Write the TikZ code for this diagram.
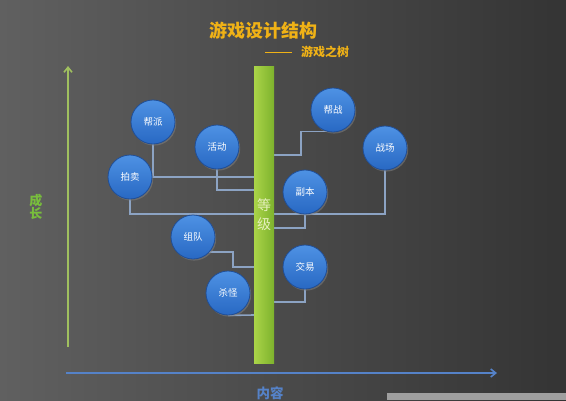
\documentclass[tikz,border=0pt]{standalone}
\usepackage{fontspec}
\newfontfamily\cjk{Noto Sans CJK SC}
\usetikzlibrary{arrows.meta,shadows}
\pgfdeclarelayer{bglayer}
\pgfsetlayers{bglayer,main}
\definecolor{bgL}{RGB}{96,96,96}
\definecolor{bgR}{RGB}{52,52,52}
\definecolor{titleC}{RGB}{240,178,22}
\definecolor{connC}{RGB}{140,163,195}
\definecolor{ballT}{RGB}{78,146,228}
\definecolor{ballB}{RGB}{40,104,195}
\definecolor{ballD}{RGB}{32,78,150}
\definecolor{barL}{RGB}{170,212,72}
\definecolor{barR}{RGB}{125,178,45}
\definecolor{growC}{RGB}{160,192,95}
\definecolor{growT}{RGB}{120,190,60}
\definecolor{axisB}{RGB}{85,130,200}
\definecolor{levelT}{RGB}{230,240,190}
\tikzset{
  ball/.style={circle, minimum size=44pt, inner sep=0pt, top color=ballT, bottom color=ballB,
    draw=ballD, line width=0.8pt, text=white, font=\cjk\fontsize{9.5}{10}\selectfont,
    drop shadow={opacity=0.55, shadow xshift=1.2pt, shadow yshift=-1.6pt}},
  conn/.style={draw=connC, line width=1.6pt},
  barbox/.style={minimum width=20pt, minimum height=297pt, inner sep=0pt, left color=barL, right color=barR}
}
\begin{document}
\begin{tikzpicture}[x=1pt,y=-1pt]
\useasboundingbox (0,0) rectangle (566,400);
\begin{pgfonlayer}{bglayer}
\fill[left color=bgL, right color=bgR] (0,0) rectangle (566,400);
\fill[gray!75] (387,393) rectangle (566,400);
\end{pgfonlayer}
% title
\node[text=titleC, font=\cjk\bfseries\fontsize{18}{20}\selectfont] (title) at (263,31) {游戏设计结构};
\node[text=titleC, font=\cjk\bfseries\fontsize{12}{14}\selectfont] (sub) at (325,52) {游戏之树};
\coordinate (d1) at (265,52);
\coordinate (d2) at (292,52);
\draw[titleC, line width=0.8pt] (d1) -- (d2);
% axes
\coordinate (g0) at (68,347);
\coordinate (g1) at (68,66);
\draw[growC, line width=1.6pt, -{Straight Barb[length=5pt,width=8pt]}] (g0) -- (g1);
\node[text=growT, font=\cjk\bfseries\fontsize{13}{14}\selectfont, align=center, inner sep=0pt] (grow) at (36,207) {成\\[-1pt]长};
\coordinate (h0) at (66,373);
\coordinate (h1) at (497,373);
\draw[axisB, line width=1.6pt, -{Straight Barb[length=5pt,width=8pt]}] (h0) -- (h1);
\node[text=axisB, font=\cjk\bfseries\fontsize{13.5}{14}\selectfont] (content) at (270,393) {内容};
% nodes
\node[ball] (bp) at (153,122) {帮派};
\node[ball] (hd) at (217,147) {活动};
\node[ball] (pm) at (130,177) {拍卖};
\node[ball] (bz) at (333,110) {帮战};
\node[ball] (zc) at (385,148) {战场};
\node[ball] (fb) at (305,192) {副本};
\node[ball] (zd) at (193,237) {组队};
\node[ball] (jy) at (305,267) {交易};
\node[ball] (sg) at (228,293) {杀怪};
% bar attachment points
\coordinate (c1) at (254,177);
\coordinate (c2) at (254,190);
\coordinate (c3) at (300,214);
\coordinate (c4a) at (301,155);
\coordinate (c4) at (274,155);
\coordinate (c5) at (274,228);
\coordinate (c6a) at (233,267);
\coordinate (c6) at (254,267);
\coordinate (c7) at (274,302);
\coordinate (c8) at (254,315);
\begin{pgfonlayer}{bglayer}
\draw[conn] (bp.south) |- (c1);
\draw[conn] (hd.south) |- (c2);
\draw[conn] (pm.south) |- (c3) -| (zc.south);
\draw[conn] (bz.-105) -| (c4a) -- (c4);
\draw[conn] (fb.south) |- (c5);
\draw[conn] (zd.-43) -| (c6a) -- (c6);
\draw[conn] (jy.south) |- (c7);
\draw[conn] (sg.south) -- (c8);
\end{pgfonlayer}
% bar
\node[barbox] (bar) at (264,214.5) {};
\node[text=levelT, font=\cjk\fontsize{14}{15}\selectfont, inner sep=0pt] (l1) at (264,205) {等};
\node[text=levelT, font=\cjk\fontsize{14}{15}\selectfont, inner sep=0pt] (l2) at (264,224) {级};
\end{tikzpicture}
\end{document}
